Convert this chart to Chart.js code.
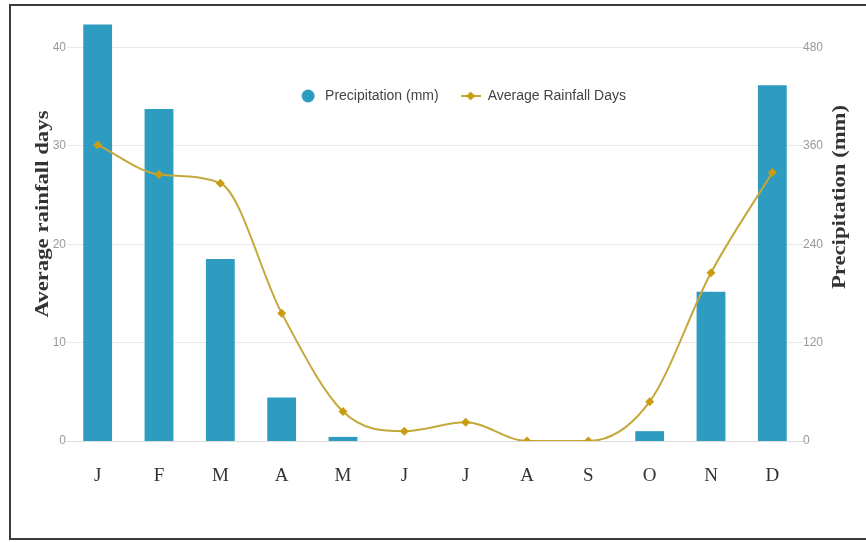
<!DOCTYPE html>
<html>
<head>
<meta charset="utf-8">
<script src="https://cdn.jsdelivr.net/npm/chart.js@4"></script>
<style>
    html, body { margin: 0; padding: 0; background: #fff; overflow: hidden; }
    #wrap { position: relative; width: 866px; height: 542px; }
    #frame {
        position: absolute; left: 9px; top: 4px; width: 870px; height: 532px;
        border: 2px solid #3c3c3c; pointer-events: none;
    }
</style>
</head>
<body>
<div id="wrap">
    <canvas id="chart" width="866" height="542"></canvas>
    <div id="frame"></div>
</div>
<script>
const months = ['J', 'F', 'M', 'A', 'M', 'J', 'J', 'A', 'S', 'O', 'N', 'D'];
const precipitation = [508, 405, 222, 53, 5, 0, 0, 0, 0, 12, 182, 434];
const rainfallDays = [30.1, 27.1, 26.2, 13.0, 3.0, 1.0, 1.9, 0, 0, 4.0, 17.1, 27.3];
const daysTicks = [0, 10, 20, 30, 40];
const mmTicks = [0, 120, 240, 360, 480];

const barColor = '#2e9bc0';
const lineColor = '#c4a83a';
const pointColor = '#c99d12';

// legend symbols (circle for the bars, line + diamond for the days)
const circleImg = document.createElement('canvas');
circleImg.width = 20; circleImg.height = 14;
let c = circleImg.getContext('2d');
c.fillStyle = barColor;
c.beginPath(); c.arc(10, 7, 6.5, 0, Math.PI * 2); c.fill();

const lineImg = document.createElement('canvas');
lineImg.width = 20; lineImg.height = 14;
c = lineImg.getContext('2d');
c.strokeStyle = lineColor; c.lineWidth = 2;
c.beginPath(); c.moveTo(0, 7); c.lineTo(20, 7); c.stroke();
c.fillStyle = pointColor;
c.beginPath(); c.moveTo(10, 2.5); c.lineTo(14.5, 7); c.lineTo(10, 11.5); c.lineTo(5.5, 7); c.closePath(); c.fill();

// axis titles read bottom-to-top on both sides
const axisTitles = {
    id: 'axisTitles',
    afterDraw(chart) {
        const ctx = chart.ctx;
        const draw = (text, cx, cy, len) => {
            ctx.save();
            ctx.translate(cx, cy);
            ctx.rotate(-Math.PI / 2);
            ctx.font = 'bold 18px "Liberation Serif", "DejaVu Serif", serif';
            const w = ctx.measureText(text).width;
            ctx.scale(len / w, 1);
            ctx.fillStyle = '#333';
            ctx.textAlign = 'center';
            ctx.textBaseline = 'middle';
            ctx.fillText(text, 0, 0);
            ctx.restore();
        };
        draw('Average rainfall days', 43, 214, 207);
        draw('Precipitation (mm)', 840, 197, 184);
    }
};

// legend takes no room at the top; move it down inside the plot
const legendShift = {
    id: 'legendShift',
    afterLayout(chart) {
        const lg = chart.legend;
        lg.top = 67;
        lg.bottom = 127;
        lg.height = 60;
        lg.left += 29;
        lg.right += 29;
    }
};

const ctx = document.getElementById('chart').getContext('2d');
new Chart(ctx, {
    data: {
        labels: months,
        datasets: [{
            type: 'bar',
            label: 'Precipitation (mm)',
            data: precipitation,
            yAxisID: 'y1',
            backgroundColor: barColor,
            categoryPercentage: 1,
            barPercentage: 0.47,
            order: 1
        }, {
            type: 'line',
            label: 'Average Rainfall Days',
            data: rainfallDays,
            yAxisID: 'y',
            borderColor: lineColor,
            borderWidth: 2,
            pointStyle: 'rectRot',
            pointRadius: 4.5,
            pointBackgroundColor: pointColor,
            pointBorderColor: pointColor,
            pointBorderWidth: 0,
            cubicInterpolationMode: 'monotone',
            order: 0
        }]
    },
    options: {
        responsive: false,
        animation: false,
        layout: { padding: { top: 20, left: 0, right: 0, bottom: 0 } },
        plugins: {
            tooltip: { enabled: false },
            legend: {
                position: 'top',
                align: 'center',
                maxHeight: 0.01,
                labels: {
                    usePointStyle: true,
                    pointStyleWidth: 20,
                    boxHeight: 14,
                    padding: 22,
                    color: '#444',
                    font: { family: '"Liberation Sans Narrow", "Liberation Sans", sans-serif', size: 14 },
                    sort: (a, b) => a.datasetIndex - b.datasetIndex,
                    generateLabels: (chart) => {
                        const items = Chart.defaults.plugins.legend.labels.generateLabels(chart);
                        items.forEach(it => { it.pointStyle = it.datasetIndex === 0 ? circleImg : lineImg; });
                        return items;
                    }
                }
            }
        },
        scales: {
            x: {
                grid: { display: false, drawTicks: false },
                border: { display: true, color: '#dcdcdc', width: 1 },
                ticks: {
                    padding: 24,
                    color: '#333',
                    font: { family: '"Liberation Serif", serif', size: 19 }
                },
                afterFit: (s) => { s.height = 101; }
            },
            y: {
                position: 'left',
                min: 0,
                max: 42.8,
                ticks: {
                    stepSize: 10,
                    includeBounds: false,
                    padding: 1,
                    color: '#999',
                    font: { family: '"Liberation Sans", sans-serif', size: 12 },
                    callback: (v) => daysTicks.includes(v) ? String(v) : ''
                },
                grid: { color: '#e8e8e8', drawTicks: false },
                border: { display: false },
                afterFit: (s) => { s.width = 67; }
            },
            y1: {
                position: 'right',
                min: 0,
                max: 513.6,
                ticks: {
                    stepSize: 120,
                    includeBounds: false,
                    padding: 0,
                    color: '#999',
                    font: { family: '"Liberation Sans", sans-serif', size: 12 },
                    callback: (v) => mmTicks.includes(v) ? String(v) : ''
                },
                grid: { display: false, drawTicks: false },
                border: { display: false },
                afterFit: (s) => { s.width = 63; }
            }
        }
    },
    plugins: [axisTitles, legendShift]
});
</script>
</body>
</html>
